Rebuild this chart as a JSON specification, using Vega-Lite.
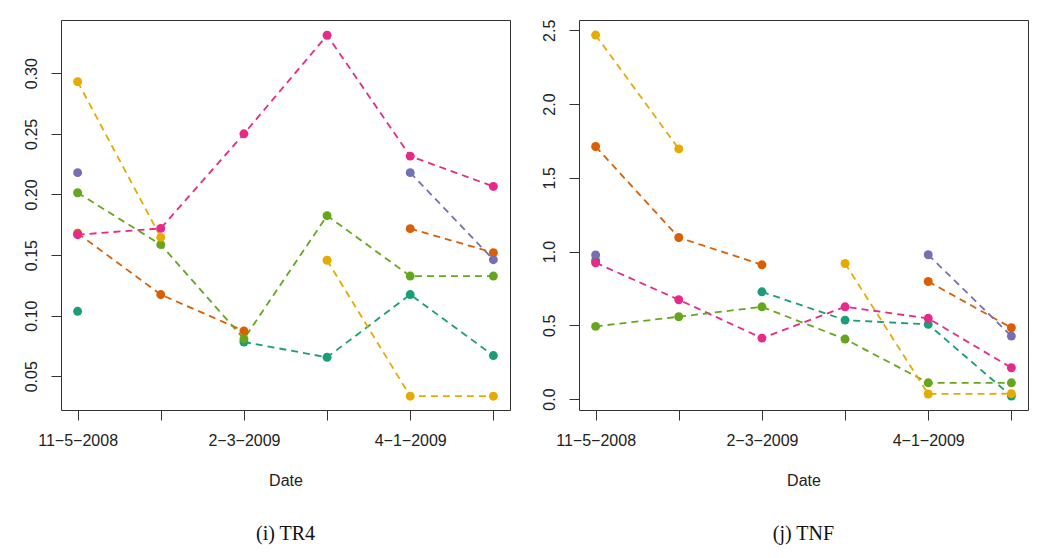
{
  "$schema": "https://vega.github.io/schema/vega-lite/v6.json",
  "background": "white",
  "padding": {"left": 22, "top": 18, "right": 5, "bottom": 5},
  "spacing": 29,
  "datasets": {
    "tr4": [
      {"t": 1, "s": "S1", "v": 0.1036}, {"t": 2, "s": "S1", "v": null}, {"t": 3, "s": "S1", "v": 0.0783}, {"t": 4, "s": "S1", "v": 0.0657}, {"t": 5, "s": "S1", "v": 0.1174}, {"t": 6, "s": "S1", "v": 0.0671},
      {"t": 1, "s": "S2", "v": 0.168}, {"t": 2, "s": "S2", "v": 0.1174}, {"t": 3, "s": "S2", "v": 0.0874}, {"t": 4, "s": "S2", "v": null}, {"t": 5, "s": "S2", "v": 0.1718}, {"t": 6, "s": "S2", "v": 0.152},
      {"t": 1, "s": "S3", "v": 0.218}, {"t": 2, "s": "S3", "v": null}, {"t": 3, "s": "S3", "v": null}, {"t": 4, "s": "S3", "v": null}, {"t": 5, "s": "S3", "v": 0.218}, {"t": 6, "s": "S3", "v": 0.1462},
      {"t": 1, "s": "S4", "v": 0.1668}, {"t": 2, "s": "S4", "v": 0.172}, {"t": 3, "s": "S4", "v": 0.25}, {"t": 4, "s": "S4", "v": 0.3313}, {"t": 5, "s": "S4", "v": 0.2316}, {"t": 6, "s": "S4", "v": 0.2066},
      {"t": 1, "s": "S5", "v": 0.2014}, {"t": 2, "s": "S5", "v": 0.1586}, {"t": 3, "s": "S5", "v": 0.0808}, {"t": 4, "s": "S5", "v": 0.1825}, {"t": 5, "s": "S5", "v": 0.1327}, {"t": 6, "s": "S5", "v": 0.1327},
      {"t": 1, "s": "S6", "v": 0.293}, {"t": 2, "s": "S6", "v": 0.1646}, {"t": 3, "s": "S6", "v": null}, {"t": 4, "s": "S6", "v": 0.1457}, {"t": 5, "s": "S6", "v": 0.0336}, {"t": 6, "s": "S6", "v": 0.0336}
    ],
    "tnf": [
      {"t": 1, "s": "S1", "v": 0.94}, {"t": 2, "s": "S1", "v": null}, {"t": 3, "s": "S1", "v": 0.727}, {"t": 4, "s": "S1", "v": 0.535}, {"t": 5, "s": "S1", "v": 0.506}, {"t": 6, "s": "S1", "v": 0.02},
      {"t": 1, "s": "S2", "v": 1.712}, {"t": 2, "s": "S2", "v": 1.095}, {"t": 3, "s": "S2", "v": 0.91}, {"t": 4, "s": "S2", "v": null}, {"t": 5, "s": "S2", "v": 0.797}, {"t": 6, "s": "S2", "v": 0.483},
      {"t": 1, "s": "S3", "v": 0.977}, {"t": 2, "s": "S3", "v": null}, {"t": 3, "s": "S3", "v": null}, {"t": 4, "s": "S3", "v": null}, {"t": 5, "s": "S3", "v": 0.978}, {"t": 6, "s": "S3", "v": 0.427},
      {"t": 1, "s": "S4", "v": 0.924}, {"t": 2, "s": "S4", "v": 0.673}, {"t": 3, "s": "S4", "v": 0.413}, {"t": 4, "s": "S4", "v": 0.625}, {"t": 5, "s": "S4", "v": 0.547}, {"t": 6, "s": "S4", "v": 0.212},
      {"t": 1, "s": "S5", "v": 0.4925}, {"t": 2, "s": "S5", "v": 0.558}, {"t": 3, "s": "S5", "v": 0.625}, {"t": 4, "s": "S5", "v": 0.4065}, {"t": 5, "s": "S5", "v": 0.11}, {"t": 6, "s": "S5", "v": 0.11},
      {"t": 1, "s": "S6", "v": 2.468}, {"t": 2, "s": "S6", "v": 1.696}, {"t": 3, "s": "S6", "v": null}, {"t": 4, "s": "S6", "v": 0.919}, {"t": 5, "s": "S6", "v": 0.034}, {"t": 6, "s": "S6", "v": 0.036}
    ]
  },
  "hconcat": [
    {
      "width": 449,
      "height": 390,
      "title": {"text": "(i) TR4", "orient": "bottom", "anchor": "middle", "frame": "group", "offset": 36},
      "data": {"name": "tr4"},
      "encoding": {
        "x": {"field": "t", "type": "quantitative", "scale": {"domain": [0.8, 6.2], "nice": false, "zero": false},
          "axis": {"values": [1, 2, 3, 4, 5, 6], "title": "Date", "labelExpr": "datum.value == 1 ? '11−5−2008' : datum.value == 3 ? '2−3−2009' : datum.value == 5 ? '4−1−2009' : ''"}},
        "y": {"field": "v", "type": "quantitative", "scale": {"domain": [0.0222, 0.3439], "nice": false, "zero": false},
          "axis": {"values": [0.05, 0.1, 0.15, 0.2, 0.25, 0.3], "format": ".2f", "title": null}},
        "color": {"field": "s", "type": "nominal", "legend": null,
          "scale": {"domain": ["S1", "S2", "S3", "S4", "S5", "S6"], "range": ["#1B9E77", "#D95F02", "#7570B3", "#E7298A", "#66A61E", "#E6AB02"]}}
      },
      "layer": [
        {"mark": {"type": "line", "strokeDash": [7, 5], "strokeWidth": 1.8, "invalid": "break-paths-show-domains"}},
        {"transform": [{"filter": "isValid(datum.v)"}], "mark": {"type": "circle", "size": 80, "opacity": 1}}
      ]
    },
    {
      "width": 449,
      "height": 390,
      "title": {"text": "(j) TNF", "orient": "bottom", "anchor": "middle", "frame": "group", "offset": 36},
      "data": {"name": "tnf"},
      "encoding": {
        "x": {"field": "t", "type": "quantitative", "scale": {"domain": [0.8, 6.2], "nice": false, "zero": false},
          "axis": {"values": [1, 2, 3, 4, 5, 6], "title": "Date", "labelExpr": "datum.value == 1 ? '11−5−2008' : datum.value == 3 ? '2−3−2009' : datum.value == 5 ? '4−1−2009' : ''"}},
        "y": {"field": "v", "type": "quantitative", "scale": {"domain": [-0.0745, 2.570], "nice": false, "zero": false},
          "axis": {"values": [0, 0.5, 1, 1.5, 2, 2.5], "format": ".1f", "title": null}},
        "color": {"field": "s", "type": "nominal", "legend": null,
          "scale": {"domain": ["S1", "S2", "S3", "S4", "S5", "S6"], "range": ["#1B9E77", "#D95F02", "#7570B3", "#E7298A", "#66A61E", "#E6AB02"]}}
      },
      "layer": [
        {"mark": {"type": "line", "strokeDash": [7, 5], "strokeWidth": 1.8, "invalid": "break-paths-show-domains"}},
        {"transform": [{"filter": "isValid(datum.v)"}], "mark": {"type": "circle", "size": 80, "opacity": 1}}
      ]
    }
  ],
  "resolve": {"scale": {"color": "independent"}},
  "config": {
    "view": {"stroke": "#333", "strokeWidth": 1},
    "axis": {
      "domain": false, "grid": false,
      "tickSize": 10, "tickColor": "#333", "tickWidth": 1,
      "labelFont": "Liberation Sans", "labelFontSize": 16, "labelColor": "#222",
      "titleFont": "Liberation Sans", "titleFontSize": 16, "titleFontWeight": "normal", "titleColor": "#222",
      "labelOverlap": false
    },
    "axisX": {"labelPadding": 12, "titlePadding": 24, "labelFlush": false},
    "axisY": {"labelAngle": -90, "labelPadding": 12, "labelFlush": false},
    "title": {"font": "Liberation Serif", "fontSize": 20, "fontWeight": "normal", "color": "#111"}
  }
}
